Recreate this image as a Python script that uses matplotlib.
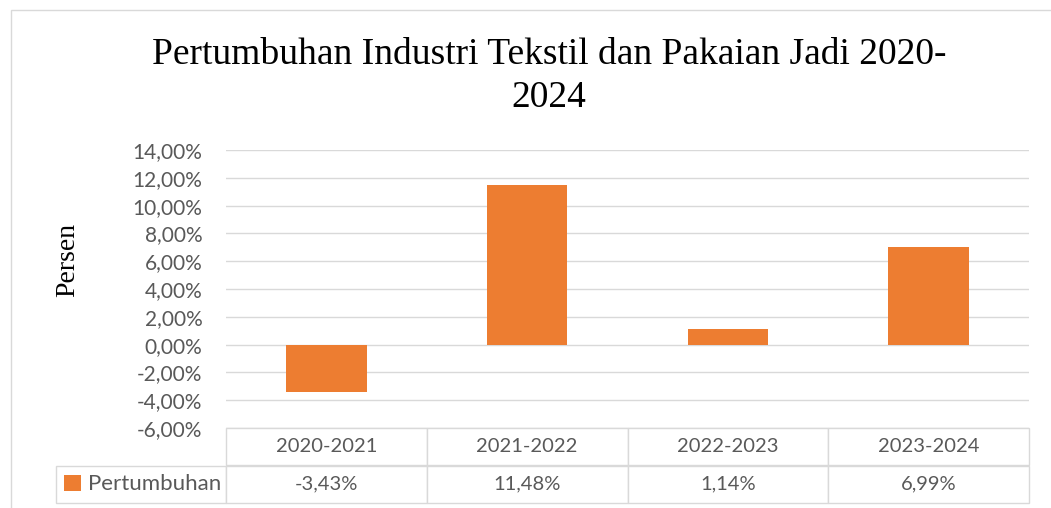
import matplotlib.pyplot as plt
from matplotlib.patches import Rectangle

# Data
periods = ['2020-2021', '2021-2022', '2022-2023', '2023-2024']
growth = [-3.43, 11.48, 1.14, 6.99]
growth_labels = ['-3,43%', '11,48%', '1,14%', '6,99%']
series_name = 'Pertumbuhan'
yticks = [-6, -4, -2, 0, 2, 4, 6, 8, 10, 12, 14]

orange = '#ED7D31'
grid_c = '#D9D9D9'
text_c = '#595959'
sans = 'Lato'
serif = 'Liberation Serif'

W, H = 1051, 508
fig = plt.figure(figsize=(W / 100, H / 100), dpi=100)

# chart area border (Excel style)
fig.patches.append(Rectangle((11 / W, -0.2), 1.2, 1 - 10 / H + 0.2, transform=fig.transFigure,
                             fill=False, edgecolor=grid_c, linewidth=1.0))

ax = fig.add_axes([226 / W, 1 - 428 / H, (1029 - 226) / W, (428 - 150) / H])

x = list(range(len(periods)))
ax.bar(x, growth, width=0.4, color=orange, label=series_name, zorder=3)
ax.set_xlim(-0.5, len(periods) - 0.5)
ax.set_ylim(-6, 14)
ax.set_yticks(yticks)
ax.set_yticklabels([f'{v:.2f}%'.replace('.', ',') for v in yticks],
                   fontsize=15, color=text_c, family=sans)
ax.tick_params(axis='y', length=0, pad=17)
ax.set_xticks([])
ax.yaxis.grid(True, color=grid_c, linewidth=1.0, zorder=0)
for s in ax.spines.values():
    s.set_visible(False)

ax.set_ylabel('Persen', fontsize=20, family=serif, color='black', labelpad=0)
ax.yaxis.set_label_coords(-0.182, 0.606)

# data table under the axis
axh = 428 - 150
tbl = ax.table(cellText=[[''] + growth_labels],
               colLabels=[''] + periods,
               colWidths=[170] + [803 / 4] * 4,
               cellLoc='center', colLoc='center',
               bbox=[(56 - 226) / 803, -75 / axh, (1029 - 56) / 803, 75 / axh])
tbl.auto_set_font_size(False)
for (r, c), cell in tbl.get_celld().items():
    cell.set_edgecolor(grid_c)
    cell.set_linewidth(1.0)
    cell.get_text().set_fontsize(14.5)
    cell.get_text().set_color(text_c)
    cell.get_text().set_family(sans)
    if r == 0 and c == 0:
        cell.visible_edges = ''

ax.legend(loc='center left', bbox_to_anchor=((64 - 226) / 803, -56.5 / axh),
          frameon=False, handlelength=0.75, handleheight=0.75, handletextpad=0.35,
          borderaxespad=0, borderpad=0,
          prop={'family': sans, 'size': 16}, labelcolor=text_c)

fig.text(549 / W, 1 - 64 / H, 'Pertumbuhan Industri Tekstil dan Pakaian Jadi 2020-',
         ha='center', va='baseline', fontsize=27, family=serif, color='black')
fig.text(549 / W, 1 - 107 / H, '2024',
         ha='center', va='baseline', fontsize=27, family=serif, color='black')

fig.savefig('out.png', dpi=100)
